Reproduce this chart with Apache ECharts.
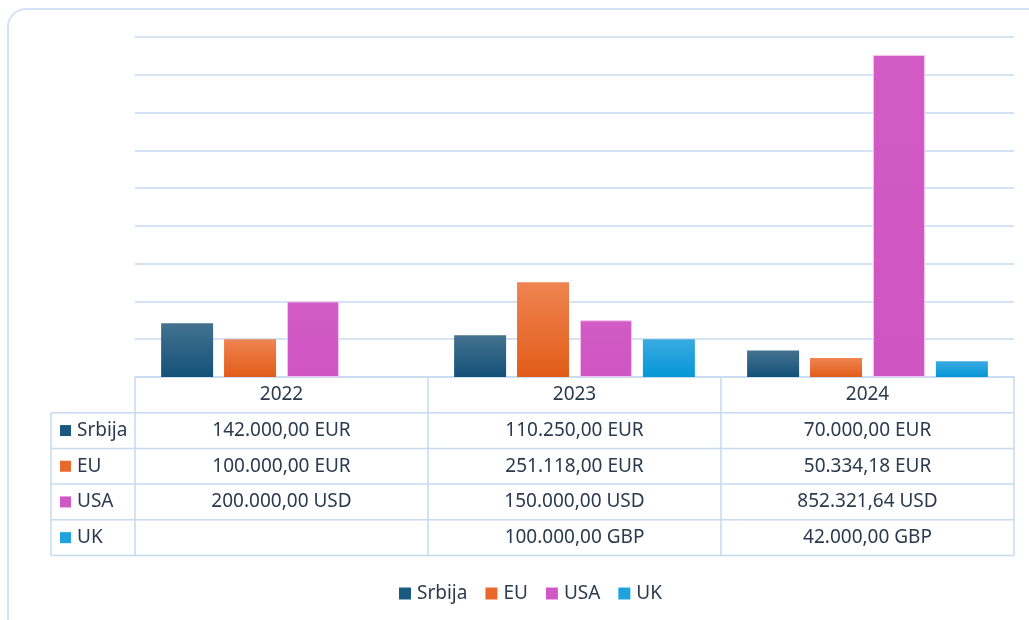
<!DOCTYPE html>
<html>
<head>
<meta charset="utf-8">
<script src="https://cdn.jsdelivr.net/npm/echarts@6/dist/echarts.min.js"></script>
<style>
  html, body { margin: 0; padding: 0; background: #fff; }
  #chart { width: 1029px; height: 620px; }
</style>
</head>
<body>
<div id="chart"></div>
<script>
const years = ['2022', '2023', '2024'];
const seriesNames = ['Srbija', 'EU', 'USA', 'UK'];
const currencies = ['EUR', 'EUR', 'USD', 'GBP'];
const srbija = [142000, 110250, 70000];
const eu = [100000, 251118, 50334.18];
const usa = [200000, 150000, 852321.64];
const uk = [null, 100000, 42000];
const values = [srbija, eu, usa, uk];

const colors = [
  ['#44728f', '#135179'],
  ['#ef8452', '#e25c18'],
  ['#d25bc5', '#cf55c2'],
  ['#3aaae2', '#0597d6']
];
const flatColors = ['#1a5a80', '#e8692b', '#d058c4', '#1fa3de'];

const font = '"Noto Sans", sans-serif';
const textColor = '#2b3a4e';
const lineColor = '#c6daf1';

// 142000 -> "142.000,00"
function fmt(v) {
  const parts = v.toFixed(2).split('.');
  const int = parts[0].replace(/\B(?=(\d{3})+(?!\d))/g, '.');
  return int + ',' + parts[1];
}

const gridLeft = 135, gridRight = 15, gridTop = 37, gridBottom = 243;
const W = 1029, H = 620;
const rowH = 35.7;
const tableLeft = 51;

const chart = echarts.init(document.getElementById('chart'));

function grad(c) {
  return new echarts.graphic.LinearGradient(0, 0, 0, 1, [
    { offset: 0, color: c[0] }, { offset: 1, color: c[1] }
  ]);
}

// table graphics
const axisY = H - gridBottom;
const plotW = W - gridLeft - gridRight;
const band = plotW / years.length;
const tableRight = gridLeft + plotW;
const graphics = [];

graphics.push({
  type: 'rect', silent: true, z: -10,
  shape: { x: 8, y: 9, width: 1040, height: 640, r: 18 },
  style: { fill: '#fff', stroke: '#d3e3f4', lineWidth: 2 }
});

for (let r = 1; r <= seriesNames.length + 1; r++) {
  const y = axisY + rowH * r;
  graphics.push({
    type: 'line', silent: true,
    shape: { x1: tableLeft, y1: y, x2: tableRight, y2: y },
    style: { stroke: lineColor, lineWidth: 1.5 }
  });
}
const vxs = [tableLeft];
for (let i = 0; i <= years.length; i++) vxs.push(gridLeft + band * i);
vxs.forEach(x => {
  graphics.push({
    type: 'line', silent: true,
    shape: { x1: x, y1: axisY + rowH, x2: x, y2: axisY + rowH * (seriesNames.length + 1) },
    style: { stroke: lineColor, lineWidth: 1.5 }
  });
});

seriesNames.forEach((name, s) => {
  const cy = axisY + rowH * (s + 1.5);
  graphics.push({
    type: 'rect', silent: true,
    shape: { x: 60, y: cy - 5.5, width: 11, height: 11 },
    style: { fill: flatColors[s] }
  });
  graphics.push({
    type: 'text', silent: true,
    x: 77, y: cy,
    style: { text: name, font: '19px ' + font, fill: textColor, verticalAlign: 'middle', align: 'left' }
  });
  years.forEach((yr, i) => {
    const v = values[s][i];
    if (v == null) return;
    graphics.push({
      type: 'text', silent: true,
      x: gridLeft + band * (i + 0.5), y: cy,
      style: { text: fmt(v) + ' ' + currencies[s], font: '19px ' + font, fill: textColor, align: 'center', verticalAlign: 'middle' }
    });
  });
});

chart.setOption({
  backgroundColor: '#fff',
  animation: false,
  textStyle: { fontFamily: font },
  legend: {
    data: seriesNames.map((n, s) => ({
      name: n,
      itemStyle: { color: flatColors[s], borderWidth: 0 }
    })),
    bottom: 12,
    left: 394,
    icon: 'rect',
    itemWidth: 12,
    itemHeight: 12,
    itemGap: 18,
    textStyle: { fontSize: 19, color: textColor, fontFamily: font, padding: [0, 0, 0, 1] }
  },
  grid: { left: gridLeft, right: gridRight, top: gridTop, bottom: gridBottom },
  xAxis: {
    type: 'category',
    data: years,
    axisLine: { lineStyle: { color: lineColor, width: 1.5 } },
    axisTick: { show: true, length: rowH, inside: false, lineStyle: { color: lineColor, width: 1.5 } },
    axisLabel: { fontSize: 19, color: textColor, margin: 8, fontFamily: font }
  },
  yAxis: {
    type: 'value',
    min: 0,
    max: 900000,
    interval: 100000,
    axisLabel: { show: false },
    axisLine: { show: false },
    axisTick: { show: false },
    splitLine: { lineStyle: { color: lineColor, width: 1.5 } }
  },
  series: seriesNames.map((name, s) => ({
    name: name,
    type: 'bar',
    data: values[s],
    barWidth: 52,
    barGap: '21%',
    color: flatColors[s],
    itemStyle: {
      color: grad(colors[s]),
      borderColor: s === 2 ? '#f3c3ec' : 'transparent',
      borderWidth: s === 2 ? 1 : 0
    }
  })),
  graphic: graphics
});
</script>
</body>
</html>
